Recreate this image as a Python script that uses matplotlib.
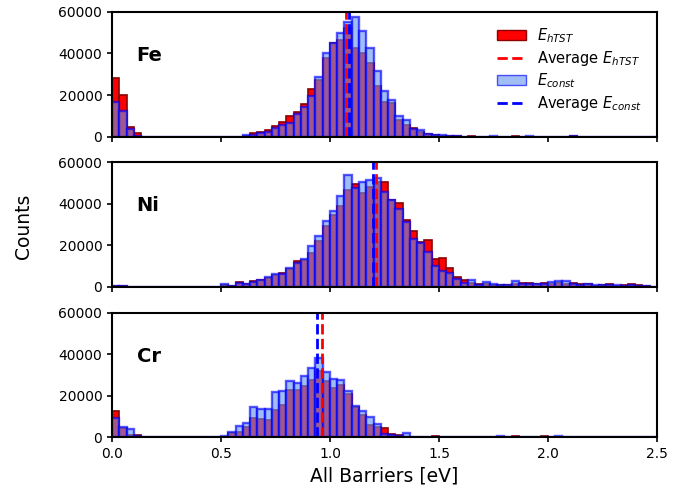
import numpy as np
import matplotlib
matplotlib.use("Agg")
import matplotlib.pyplot as plt
from matplotlib.patches import Patch
from matplotlib.lines import Line2D

# 75 bins of width 1/30 eV between 0 and 2.5 eV
bin_edges = np.linspace(0.0, 2.5, 76)

fe_htst = [28100, 20100, 4640, 1760, 0, 0, 0, 0, 0, 0,
           0, 0, 0, 0, 0, 0, 0, 0, 300, 1770,
           2080, 3030, 4950, 7030, 10060, 11800, 15800, 23000, 27300, 37700,
           44850, 46460, 52000, 42500, 40100, 35600, 24400, 16400, 16100, 7800,
           5750, 4000, 2080, 1120, 960, 500, 300, 200, 0, 200,
           0, 0, 0, 0, 0, 150, 0, 0, 0, 0,
           0, 0, 0, 200, 0, 0, 0, 0, 0, 0,
           0, 0, 0, 0, 0]
fe_const = [16770, 12450, 3700, 500, 0, 0, 0, 0, 0, 0,
            0, 0, 0, 0, 0, 0, 0, 0, 800, 960,
            1770, 2400, 4150, 5750, 6550, 11000, 14200, 19300, 28900, 40400,
            45200, 49650, 55000, 57300, 50800, 42800, 31600, 21700, 17700, 10000,
            7800, 3670, 3030, 1440, 800, 600, 300, 250, 0, 0,
            0, 0, 250, 0, 0, 0, 0, 150, 0, 0,
            0, 0, 0, 300, 0, 0, 0, 0, 0, 0,
            0, 0, 0, 0, 0]

ni_htst = [400, 300, 100, 0, 0, 0, 0, 0, 0, 0,
           0, 0, 0, 0, 0, 1000, 300, 2550, 1250, 3030,
           3200, 4500, 5900, 6740, 8800, 12660, 13150, 16370, 21950, 29370,
           34500, 39000, 46850, 49740, 45260, 48150, 50400, 50400, 41600, 40450,
           32070, 26800, 21670, 22780, 13630, 13960, 9150, 4650, 3200, 1930,
           1600, 1600, 1120, 960, 800, 1600, 1930, 1930, 1600, 1930,
           1600, 1930, 1600, 1930, 1600, 1600, 640, 800, 1280, 640,
           960, 1280, 960, 640, 0]
ni_const = [600, 600, 200, 0, 0, 0, 0, 0, 0, 0,
            0, 0, 0, 0, 0, 1600, 600, 1930, 1600, 2550,
            3500, 4800, 6400, 6400, 9150, 11560, 13630, 19900, 24400, 31900,
            36750, 43970, 53600, 47670, 50400, 51200, 52500, 45740, 42000, 37560,
            31300, 23260, 21200, 16850, 9930, 7700, 6740, 3850, 1930, 3200,
            960, 2200, 1440, 1120, 960, 2700, 1280, 1600, 1440, 1600,
            2200, 2700, 2900, 1280, 1120, 1280, 960, 960, 800, 800,
            640, 800, 640, 320, 0]

cr_htst = [12870, 4520, 1290, 970, 300, 0, 0, 0, 0, 0,
           0, 0, 0, 0, 320, 320, 1940, 2710, 4840, 9200,
           8710, 8200, 13230, 15650, 22910, 22910, 24840, 27420, 32100, 26940,
           23720, 25330, 20970, 14520, 10810, 5970, 5160, 4360, 1610, 970,
           320, 160, 0, 0, 800, 0, 0, 0, 320, 0,
           0, 0, 0, 0, 0, 800, 0, 0, 0, 500,
           0, 0, 0, 300, 0, 0, 0, 0, 0, 0,
           0, 0, 0, 0, 0]
cr_const = [9500, 4840, 3870, 480, 200, 150, 150, 0, 0, 0,
            0, 0, 320, 0, 200, 640, 2710, 5470, 6780, 14520,
            13550, 13550, 21600, 22420, 26940, 26130, 29350, 33400, 38240, 31460,
            28230, 27420, 22420, 14840, 12420, 9980, 6450, 1610, 1130, 640,
            2260, 320, 0, 160, 320, 0, 150, 0, 0, 320,
            320, 0, 0, 800, 0, 0, 0, 300, 0, 0,
            0, 800, 300, 0, 0, 0, 0, 0, 0, 0,
            0, 0, 0, 0, 0]

elements = ["Fe", "Ni", "Cr"]
htst_counts = [fe_htst, ni_htst, cr_htst]
const_counts = [fe_const, ni_const, cr_const]
avg_htst = [1.073, 1.211, 0.963]
avg_const = [1.088, 1.197, 0.940]

fig, axes = plt.subplots(3, 1, sharex=True, figsize=(6.85, 4.93), dpi=100)
fig.subplots_adjust(left=0.1635, right=0.959, top=0.976, bottom=0.113, hspace=0.205)

centers = 0.5 * (bin_edges[:-1] + bin_edges[1:])
blue_face = (0.39, 0.58, 0.93, 0.6)
blue_edge = (0.0, 0.0, 1.0, 0.65)

for ax, name, h, c, mh, mc in zip(axes, elements, htst_counts, const_counts, avg_htst, avg_const):
    ax.hist(centers, bins=bin_edges, weights=h, facecolor="red", edgecolor="darkred", linewidth=1.2)
    ax.hist(centers, bins=bin_edges, weights=c, facecolor=blue_face, edgecolor=blue_edge, linewidth=1.7)
    ax.axvline(mh, color="red", linestyle="--", linewidth=2)
    ax.axvline(mc, color="blue", linestyle="--", linewidth=2)
    ax.text(0.045, 0.65, name, transform=ax.transAxes, fontsize=14, fontweight="bold", va="center")
    ax.set_xlim(0, 2.5)
    ax.set_ylim(0, 60000)
    ax.set_yticks([0, 20000, 40000, 60000])
    ax.tick_params(labelsize=10, width=1.2)
    for s in ax.spines.values():
        s.set_linewidth(1.5)

handles = [Patch(facecolor="red", edgecolor="darkred"),
           Line2D([], [], color="red", linestyle="--", linewidth=2),
           Patch(facecolor=blue_face, edgecolor=blue_edge),
           Line2D([], [], color="blue", linestyle="--", linewidth=2)]
labels = [r"$E_{hTST}$", r"Average $E_{hTST}$", r"$E_{const}$", r"Average $E_{const}$"]
axes[0].legend(handles, labels, loc="upper right", frameon=False, fontsize=10.5,
               labelspacing=0.25, borderaxespad=0.6)

axes[2].set_xticks([0.0, 0.5, 1.0, 1.5, 2.0, 2.5])
axes[2].set_xlabel("All Barriers [eV]", fontsize=13.5)
fig.text(0.035, 0.54, "Counts", rotation=90, fontsize=13.5, va="center", ha="center")

fig.savefig("out.png", dpi=100)
